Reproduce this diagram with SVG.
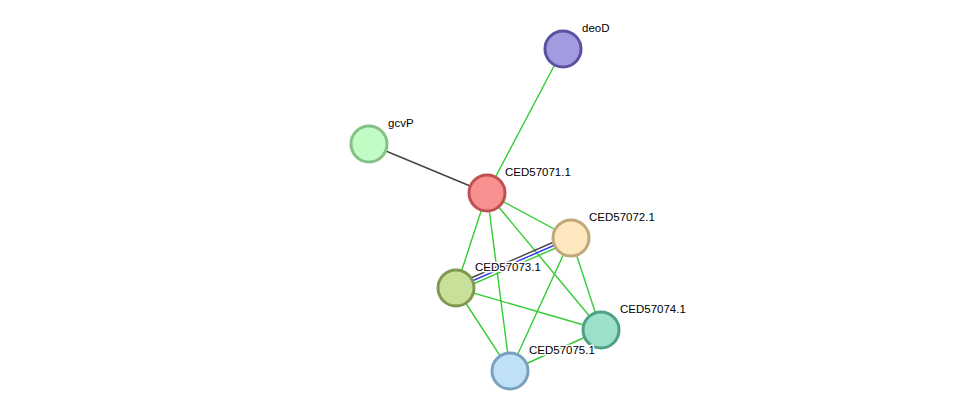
<svg xmlns="http://www.w3.org/2000/svg" width="976" height="417" viewBox="0 0 976 417">
<style>
.e{stroke:#33cc33;stroke-width:1.4;fill:none}
.n{stroke-width:3}
text{font-family:"Liberation Sans",Arial,sans-serif;font-size:11.5px;fill:#000;paint-order:stroke;stroke:#fff;stroke-width:3px;stroke-linejoin:round}
</style>
<rect width="976" height="417" fill="#fff"/>
<g id="connectors">
<line class="e" x1="487" y1="193" x2="563" y2="49"/>
<line x1="487" y1="193" x2="369" y2="144" stroke="#444" stroke-width="1.4"/>
<line class="e" x1="487" y1="193" x2="571" y2="238"/>
<line class="e" x1="487" y1="193" x2="456" y2="288"/>
<line class="e" x1="487" y1="193" x2="601" y2="330"/>
<line class="e" x1="487" y1="193" x2="510" y2="371"/>
<line class="e" x1="571" y1="238" x2="601" y2="330"/>
<line class="e" x1="571" y1="238" x2="510" y2="371"/>
<line class="e" x1="456" y1="288" x2="601" y2="330"/>
<line class="e" x1="456" y1="288" x2="510" y2="371"/>
<line class="e" x1="601" y1="330" x2="510" y2="371"/>
<line x1="455" y1="285" x2="570" y2="235" stroke="#444" stroke-width="1.4"/>
<line x1="456" y1="288" x2="571" y2="238" stroke="#3333ee" stroke-width="1.4"/>
<line x1="457" y1="291" x2="572" y2="241" stroke="#33cc33" stroke-width="1.4"/>
</g>
<g id="deoD"><circle class="n" cx="563" cy="49" r="18" fill="#a29be0" stroke="#5a52a0"/><text x="582" y="32">deoD</text></g>
<g id="gcvP"><circle class="n" cx="369" cy="144" r="18" fill="#c0fcc4" stroke="#85c085"/><text x="388" y="127">gcvP</text></g>
<g id="CED57071.1"><circle class="n" cx="487" cy="193" r="18" fill="#f99090" stroke="#c05050"/><text x="505" y="176">CED57071.1</text></g>
<g id="CED57072.1"><circle class="n" cx="571" cy="238" r="18" fill="#fde8c0" stroke="#c0a878"/><text x="589" y="221">CED57072.1</text></g>
<g id="CED57073.1"><circle class="n" cx="456" cy="288" r="18" fill="#c8e09a" stroke="#809850"/><text x="475" y="271">CED57073.1</text></g>
<g id="CED57074.1"><circle class="n" cx="601" cy="330" r="18" fill="#9de0cc" stroke="#50a088"/><text x="620" y="313">CED57074.1</text></g>
<g id="CED57075.1"><circle class="n" cx="510" cy="371" r="18" fill="#c0e0f8" stroke="#7aa0c0"/><text x="529" y="354">CED57075.1</text></g>
</svg>
